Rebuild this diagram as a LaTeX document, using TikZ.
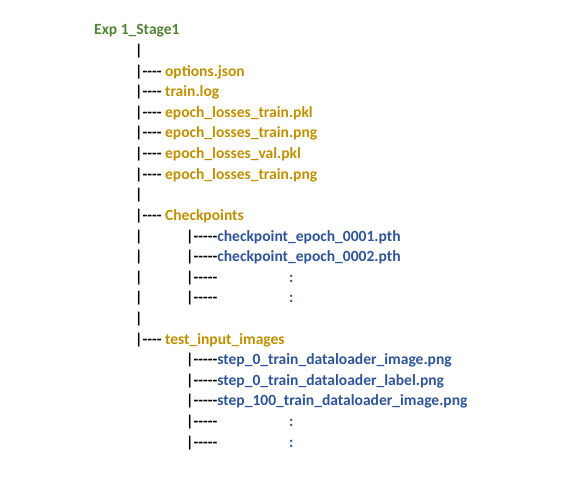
\documentclass[tikz,border=0pt]{standalone}
\usepackage{fontspec}
\setmainfont{Carlito}[Ligatures=TeXOff]
\definecolor{expgreen}{HTML}{548235}
\definecolor{dirgold}{HTML}{BF9000}
\definecolor{fileblue}{HTML}{2F5597}
\begin{document}
\begin{tikzpicture}[x=1bp,y=-1bp,
  row/.style={anchor=base west,inner sep=0pt,font=\fontsize{15.6}{18}\selectfont\bfseries},
  dir/.style={row,text=dirgold},
  file/.style={row,text=fileblue}]
\useasboundingbox (0,0) rectangle (586,481);
\node[row,text=expgreen] (exp) at (94,35) {Exp 1\_Stage1};
\node[row] (bar1) at (135,55.6) {|};
%
\node[row] (opt) at (135,76.2) {|---- \textcolor{dirgold}{options.json}};
\node[row] (log) at (135,96.8) {|---- \textcolor{dirgold}{train.log}};
\node[row] (ltpkl) at (135,117.4) {|---- \textcolor{dirgold}{epoch\_losses\_train.pkl}};
\node[row] (ltpng) at (135,138) {|---- \textcolor{dirgold}{epoch\_losses\_train.png}};
\node[row] (lvpkl) at (135,158.6) {|---- \textcolor{dirgold}{epoch\_losses\_val.pkl}};
\node[row] (ltpng2) at (135,179.2) {|---- \textcolor{dirgold}{epoch\_losses\_train.png}};
\node[row] (bar2) at (135,199.8) {|};
%
\node[row] (ckdir) at (135,220.4) {|---- \textcolor{dirgold}{Checkpoints}};
\node[row] (bar3) at (135,241) {|};
\node[row] (ck1) at (186,241) {|-----\textcolor{fileblue}{checkpoint\_epoch\_0001.pth}};
\node[row] (bar4) at (135,261.6) {|};
\node[row] (ck2) at (186,261.6) {|-----\textcolor{fileblue}{checkpoint\_epoch\_0002.pth}};
\node[row] (bar5) at (135,282.2) {|};
\node[row] (ck3) at (186,282.2) {|-----};
\node[file] (ck3dots) at (289,282.2) {:};
\node[row] (bar6) at (135,302.8) {|};
\node[row] (ck4) at (186,302.8) {|-----};
\node[file] (ck4dots) at (289,302.8) {:};
\node[row] (bar7) at (135,323.4) {|};
%
\node[row] (imgdir) at (135,344) {|---- \textcolor{dirgold}{test\_input\_images}};
\node[row] (img1) at (186,364.6) {|-----\textcolor{fileblue}{step\_0\_train\_dataloader\_image.png}};
\node[row] (lab1) at (186,385.2) {|-----\textcolor{fileblue}{step\_0\_train\_dataloader\_label.png}};
\node[row] (img2) at (186,405.8) {|-----\textcolor{fileblue}{step\_100\_train\_dataloader\_image.png}};
\node[row] (img3) at (186,426.4) {|-----};
\node[file] (img3dots) at (289,426.4) {:};
\node[row] (img4) at (186,447) {|-----};
\node[file] (img4dots) at (289,447) {:};
\end{tikzpicture}
\end{document}
